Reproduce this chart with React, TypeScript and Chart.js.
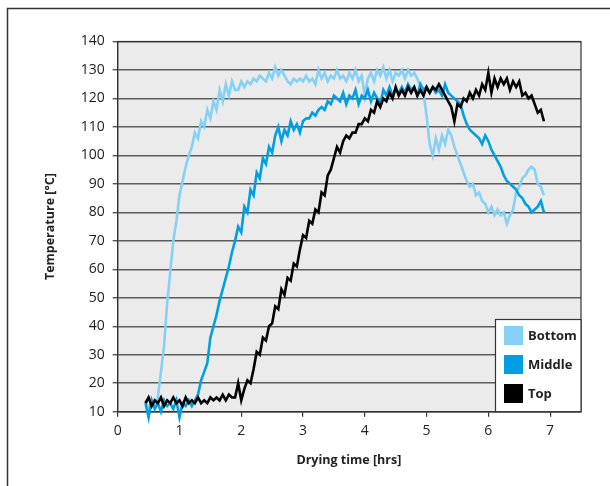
import React, { useEffect, useRef } from "react";
import { Chart, registerables } from "chart.js";

Chart.register(...registerables);

const TIMES = [
  0.45, 0.5, 0.55, 0.6, 0.65, 0.7, 0.75, 0.8, 0.85, 0.9, 0.95, 1.0, 1.05, 1.1, 1.15, 1.2, 1.25, 1.3, 1.35, 1.4,
  1.45, 1.5, 1.55, 1.6, 1.65, 1.7, 1.75, 1.8, 1.85, 1.9, 1.95, 2.0, 2.05, 2.1, 2.15, 2.2, 2.25, 2.3, 2.35, 2.4,
  2.45, 2.5, 2.55, 2.6, 2.65, 2.7, 2.75, 2.8, 2.85, 2.9, 2.95, 3.0, 3.05, 3.1, 3.15, 3.2, 3.25, 3.3, 3.35, 3.4,
  3.45, 3.5, 3.55, 3.6, 3.65, 3.7, 3.75, 3.8, 3.85, 3.9, 3.95, 4.0, 4.05, 4.1, 4.15, 4.2, 4.25, 4.3, 4.35, 4.4,
  4.45, 4.5, 4.55, 4.6, 4.65, 4.7, 4.75, 4.8, 4.85, 4.9, 4.95, 5.0, 5.05, 5.1, 5.15, 5.2, 5.25, 5.3, 5.35, 5.4,
  5.45, 5.5, 5.55, 5.6, 5.65, 5.7, 5.75, 5.8, 5.85, 5.9, 5.95, 6.0, 6.05, 6.1, 6.15, 6.2, 6.25, 6.3, 6.35, 6.4,
  6.45, 6.5, 6.55, 6.6, 6.65, 6.7, 6.75, 6.8, 6.85, 6.9,
];

const BOTTOM = [
  14, 11, 13, 12, 15, 24, 33, 48, 59, 70, 77, 86, 91, 96, 100, 103, 108, 106, 112, 110,
  116, 113, 119, 116, 123, 119, 125, 121, 126, 123, 123, 126, 124, 126, 125, 127, 126, 128, 127, 126,
  129, 127, 131, 128, 130, 128, 126, 125, 127, 126, 127, 126, 128, 126, 127, 125, 130, 127, 129, 126,
  128, 127, 130, 127, 128, 126, 129, 127, 130, 126, 128, 121, 127, 129, 126, 130, 128, 131, 127, 130,
  126, 129, 128, 130, 127, 130, 128, 129, 127, 124, 122, 114, 104, 100, 106, 102, 107, 104, 109, 107,
  103, 100, 97, 94, 91, 89, 90, 86, 87, 84, 83, 80, 82, 79, 81, 79, 80, 76, 79, 81,
  87, 89, 92, 93, 95, 96, 95, 90, 89, 86,
];

const MIDDLE = [
  13, 8, 14, 11, 13, 10, 14, 12, 13, 11, 14, 8, 13, 12, 14, 12, 14, 16, 21, 24,
  27, 36, 40, 44, 49, 53, 57, 61, 66, 70, 75, 73, 82, 80, 88, 86, 94, 92, 99, 97,
  103, 101, 107, 110, 105, 109, 107, 112, 109, 111, 108, 112, 113, 113, 115, 114, 116, 117, 116, 119,
  118, 121, 120, 119, 122, 118, 121, 120, 123, 118, 121, 120, 123, 119, 122, 120, 118, 123, 121, 124,
  121, 123, 122, 124, 122, 125, 123, 124, 121, 125, 123, 124, 122, 124, 122, 123, 121, 125, 122, 121,
  120, 119, 118, 114, 111, 109, 108, 107, 106, 104, 107, 105, 102, 100, 98, 96, 93, 91, 90, 89,
  88, 86, 85, 83, 82, 80, 81, 82, 84, 80,
];

const TOP = [
  13, 15, 12, 14, 13, 15, 12, 14, 13, 15, 13, 14, 12, 15, 13, 14, 13, 15, 13, 14,
  13, 15, 14, 15, 14, 16, 14, 16, 15, 15, 20, 14, 18, 21, 20, 25, 31, 30, 36, 35,
  40, 41, 47, 46, 53, 51, 57, 56, 62, 61, 67, 72, 71, 77, 76, 81, 80, 87, 86, 93,
  95, 99, 103, 101, 105, 107, 106, 108, 108, 111, 111, 113, 112, 116, 115, 119, 117, 120, 119, 122,
  120, 124, 121, 123, 121, 124, 122, 124, 121, 123, 121, 124, 122, 124, 123, 125, 123, 121, 119, 117,
  112, 118, 117, 120, 119, 122, 120, 123, 121, 125, 123, 129, 122, 127, 124, 127, 125, 127, 123, 126,
  124, 126, 121, 122, 120, 121, 118, 115, 116, 112,
];

const SERIES_NAMES = ["Bottom", "Middle", "Top"];
const SERIES_COLORS = ["#85d1f5", "#009fe3", "#000000"];
const X_TICKS = [0, 1, 2, 3, 4, 5, 6, 7];
const Y_TICKS = [10, 20, 30, 40, 50, 60, 70, 80, 90, 100, 110, 120, 130, 140];
const X_TITLE = "Drying time [hrs]";
const Y_TITLE = "Temperature [°C]";

const FONT = "'Open Sans', 'Noto Sans', sans-serif";

const toPoints = (vals: number[]) => vals.map((v, i) => ({ x: TIMES[i], y: v }));

const decorPlugin = {
  id: "decor",
  beforeDraw(chart: any) {
    const { ctx, chartArea: a } = chart;
    ctx.save();
    ctx.fillStyle = "#ffffff";
    ctx.fillRect(0, 0, chart.width, chart.height);
    ctx.strokeStyle = "#333333";
    ctx.lineWidth = 1.5;
    ctx.strokeRect(7.5, 8.5, 800, 700);
    ctx.fillStyle = "#ebebeb";
    ctx.fillRect(a.left, a.top, a.right - a.left, a.bottom - a.top);
    ctx.restore();
  },
  beforeDatasetsDraw(chart: any) {
    const { ctx, chartArea: a } = chart;
    ctx.save();
    ctx.strokeStyle = "#333333";
    ctx.lineWidth = 1.2;
    ctx.strokeRect(a.left, a.top, a.right - a.left, a.bottom - a.top);
    ctx.restore();
  },
  afterDraw(chart: any) {
    const { ctx, chartArea: a } = chart;
    ctx.save();
    ctx.fillStyle = "#222222";
    ctx.font = `bold 12.5px ${FONT}`;
    ctx.textAlign = "center";
    ctx.textBaseline = "middle";
    ctx.fillText(X_TITLE, (a.left + a.right) / 2 - 0.5, 460);
    ctx.translate(50, (a.top + a.bottom) / 2);
    ctx.rotate(-Math.PI / 2);
    ctx.fillText(Y_TITLE, 0, 0);
    ctx.restore();

    ctx.save();
    const lx = 495.5, ly = 319.5, lw = a.right - 495.5, lh = a.bottom - 319.5;
    ctx.fillStyle = "#ffffff";
    ctx.fillRect(lx, ly, lw, lh);
    ctx.strokeStyle = "#333333";
    ctx.lineWidth = 1.2;
    ctx.strokeRect(lx, ly, lw, lh);
    ctx.font = `bold 13px ${FONT}`;
    ctx.textAlign = "left";
    ctx.textBaseline = "middle";
    SERIES_NAMES.forEach((name, i) => {
      const y = 326 + i * 29;
      ctx.fillStyle = SERIES_COLORS[i];
      ctx.fillRect(504, y, 19, 19);
      ctx.fillStyle = "#222222";
      ctx.fillText(name, 528, y + 10);
    });
    ctx.restore();
  },
};

export default function App() {
  const ref = useRef<HTMLCanvasElement>(null);
  useEffect(() => {
    if (!ref.current) return;
    const series = [BOTTOM, MIDDLE, TOP];
    const chart = new Chart(ref.current, {
      type: "line",
      data: {
        datasets: series.map((vals, i) => ({
          label: SERIES_NAMES[i],
          data: toPoints(vals),
          borderColor: SERIES_COLORS[i],
          backgroundColor: SERIES_COLORS[i],
          borderWidth: 2.6,
          borderJoinStyle: "miter" as const,
          pointRadius: 0,
          tension: 0,
          order: 2 - i,
          clip: false as any,
        })),
      },
      options: {
        responsive: false,
        animation: false,
        events: [],
        layout: { padding: { left: 0, right: 29, top: 41.5, bottom: 0 } },
        plugins: { legend: { display: false }, tooltip: { enabled: false } },
        scales: {
          x: {
            type: "linear",
            min: 0,
            max: 7.5,
            afterBuildTicks: (s: any) => {
              s.ticks = X_TICKS.map((v) => ({ value: v }));
            },
            afterFit: (s: any) => {
              s.height = 74.3;
            },
            grid: { drawOnChartArea: false, drawTicks: true, tickLength: 5, color: "#333333", lineWidth: 1.2 },
            border: { display: true, color: "#333333", width: 1.2 },
            ticks: { color: "#222222", font: { family: FONT, size: 14 }, padding: 6, autoSkip: false, maxRotation: 0 },
          },
          y: {
            type: "linear",
            min: 10,
            max: 140,
            afterBuildTicks: (s: any) => {
              s.ticks = Y_TICKS.map((v) => ({ value: v }));
            },
            afterFit: (s: any) => {
              s.width = 117.7;
            },
            grid: { color: "#5c5c5c", lineWidth: 1.5, tickLength: 5, tickColor: "#333333", tickWidth: 1.2 } as any,
            border: { display: true, color: "#333333", width: 1.2 },
            ticks: { color: "#222222", font: { family: FONT, size: 14 }, padding: 8, autoSkip: false },
          },
        },
      },
      plugins: [decorPlugin],
    });
    return () => chart.destroy();
  }, []);
  return (
    <div style={{ position: "absolute", left: 0, top: 0, width: 610, height: 486 }}>
      <canvas ref={ref} width={610} height={486} style={{ display: "block" }} />
    </div>
  );
}
